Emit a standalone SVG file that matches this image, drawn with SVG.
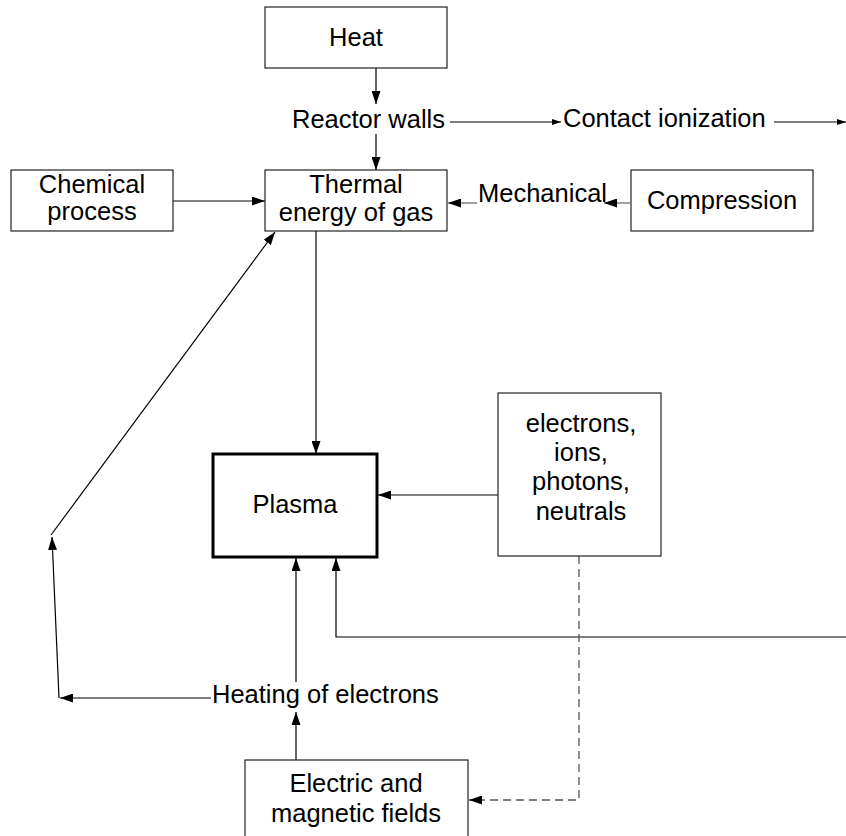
<svg xmlns="http://www.w3.org/2000/svg" width="846" height="836" viewBox="0 0 846 836">
<style>
.box{fill:#fff;stroke:#222;stroke-width:1.2}
.thick{fill:#fff;stroke:#000;stroke-width:3}
text{font-family:"Liberation Sans",Arial,sans-serif;font-size:25.5px;fill:#000}
.c{text-anchor:middle}
.ln{fill:none;stroke:#000;stroke-width:1.2}
.gr{fill:none;stroke:#777;stroke-width:1.4}
.dash{fill:none;stroke:#555;stroke-width:1.3;stroke-dasharray:8,5}
</style>
<defs>
<marker id="a" markerUnits="userSpaceOnUse" markerWidth="13" markerHeight="9" refX="13" refY="4.5" orient="auto"><path d="M0,0 L13,4.5 L0,9 z" fill="#000"/></marker>
<marker id="s" markerUnits="userSpaceOnUse" markerWidth="9" markerHeight="6" refX="9" refY="3" orient="auto"><path d="M0,0 L9,3 L0,6 z" fill="#000"/></marker>
</defs>
<rect width="846" height="836" fill="#fff"/>
<g id="connectors">
<path class="ln" d="M376,68 V104" marker-end="url(#a)"/>
<path class="ln" d="M376,134 V170" marker-end="url(#a)"/>
<path class="ln" d="M450,122 H561" marker-end="url(#s)"/>
<path class="ln" d="M774,122 H846" marker-end="url(#s)"/>
<path class="ln" d="M173,201 H265" marker-end="url(#a)"/>
<path class="gr" d="M630,203 H604" marker-end="url(#a)"/>
<path class="gr" d="M477,203 H448" marker-end="url(#a)"/>
<path class="ln" d="M316,231 V454" marker-end="url(#a)"/>
<path class="ln" d="M498,495 H378" marker-end="url(#a)"/>
<path class="ln" d="M846,637 H336 V558" marker-end="url(#a)"/>
<path class="ln" d="M296,682 V558" marker-end="url(#a)"/>
<path class="ln" d="M296,760 V712" marker-end="url(#a)"/>
<path class="ln" d="M211,698 H60" marker-end="url(#a)"/>
<path class="ln" d="M59,698 L52,537" marker-end="url(#a)"/>
<path class="ln" d="M51,535 L275,232" marker-end="url(#a)"/>
<path class="dash" d="M579,556 V800 H469" marker-end="url(#a)"/>
</g>
<g id="heat"><rect class="box" x="265" y="7" width="182" height="61"/><text class="c" x="356" y="46">Heat</text></g>
<g id="reactor-walls"><text class="c" x="368.5" y="128">Reactor walls</text></g>
<g id="contact-ionization"><text x="563" y="127">Contact ionization</text></g>
<g id="thermal"><rect class="box" x="265" y="170" width="182" height="61"/><text class="c" x="356" y="193">Thermal</text><text class="c" x="356" y="221">energy of gas</text></g>
<g id="chemical"><rect class="box" x="11" y="170" width="162" height="61"/><text class="c" x="92" y="193">Chemical</text><text class="c" x="92" y="220">process</text></g>
<g id="mechanical"><text x="478" y="202">Mechanical</text></g>
<g id="compression"><rect class="box" x="631" y="170" width="182" height="61"/><text class="c" x="722" y="209">Compression</text></g>
<g id="plasma"><rect class="thick" x="213" y="454" width="164" height="103"/><text class="c" x="295" y="513">Plasma</text></g>
<g id="particles"><rect class="box" x="498" y="393" width="163" height="163"/><text class="c" x="581" y="432">electrons,</text><text class="c" x="581" y="461">ions,</text><text class="c" x="581" y="490">photons,</text><text class="c" x="581" y="520">neutrals</text></g>
<g id="heating"><text x="212" y="703">Heating of electrons</text></g>
<g id="fields"><rect class="box" x="245" y="760" width="223" height="90"/><text class="c" x="356" y="792">Electric and</text><text class="c" x="356" y="822">magnetic fields</text></g>
</svg>
